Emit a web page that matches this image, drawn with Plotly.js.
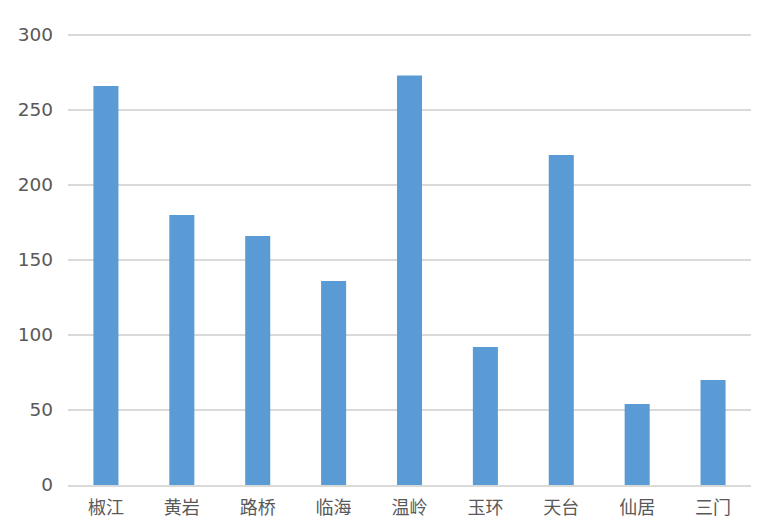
<!DOCTYPE html>
<html>
<head>
<meta charset="utf-8">
<script src="https://cdn.plot.ly/plotly-3.0.1.min.js"></script>
<style>html,body{margin:0;padding:0;background:#fff;}#chart{width:763px;height:529px;}</style>
</head>
<body>
<div id="chart"></div>
<script>
const categories = ["椒江", "黄岩", "路桥", "临海", "温岭", "玉环", "天台", "仙居", "三门"];
const values = [266, 180, 166, 136, 273, 92, 220, 54, 70];
const yTicks = [0, 50, 100, 150, 200, 250, 300];

const trace = {
  type: 'bar',
  x: categories,
  y: values,
  marker: {color: '#5b9bd5'},
  hoverinfo: 'x+y'
};

const layout = {
  width: 763,
  height: 529,
  margin: {l: 68, r: 12, t: 32, b: 44},
  paper_bgcolor: '#ffffff',
  plot_bgcolor: '#ffffff',
  bargap: 0.67,
  showlegend: false,
  xaxis: {
    type: 'category',
    showgrid: false,
    showline: true,
    linecolor: '#d9d9d9',
    linewidth: 1.5,
    ticks: '',
    tickfont: {family: '"Noto Sans CJK SC", sans-serif', size: 18, color: '#595959'},
    ticklabelstandoff: 6
  },
  yaxis: {
    range: [0, 302],
    tickvals: yTicks,
    ticktext: yTicks.map(String),
    showgrid: true,
    gridcolor: '#d9d9d9',
    gridwidth: 1.5,
    zeroline: false,
    showline: false,
    ticks: '',
    ticklabelstandoff: 14,
    tickfont: {family: '"DejaVu Sans", sans-serif', size: 18.5, color: '#595959'}
  }
};

Plotly.newPlot('chart', [trace], layout, {displayModeBar: false, staticPlot: true});
</script>
</body>
</html>
